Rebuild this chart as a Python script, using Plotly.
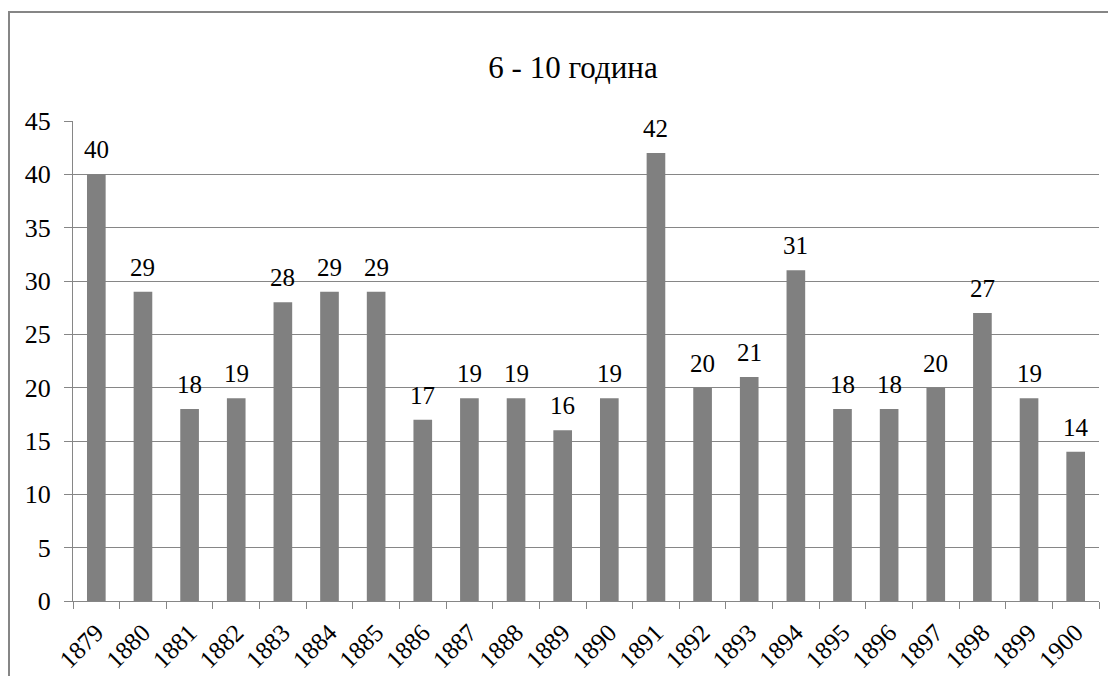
import plotly.graph_objects as go

years = ["1879", "1880", "1881", "1882", "1883", "1884", "1885", "1886", "1887", "1888", "1889",
         "1890", "1891", "1892", "1893", "1894", "1895", "1896", "1897", "1898", "1899", "1900"]
values = [40, 29, 18, 19, 28, 29, 29, 17, 19, 19, 16, 19, 42, 20, 21, 31, 18, 18, 20, 27, 19, 14]
title_text = "6 - 10 година"

# the page body has an 8px margin; the figure is sized so the plot area lands where the reference has it
OFF = 8
W, H = 1100, 668
L, R, T, B = 73 - OFF, 9, 121 - OFF, 75
FONT = "Liberation Serif"
GRAY = "#868686"

fig = go.Figure(go.Bar(
    x=years, y=values,
    marker=dict(color="#808080", line=dict(width=0)),
    width=0.40,
    hoverinfo="x+y",
))

for i, v in enumerate(values):
    fig.add_annotation(x=i, y=v, text=str(v), showarrow=False, xanchor="center",
                       yanchor="bottom", yshift=9,
                       font=dict(family=FONT, size=25, color="black"))

pw = W - L - R
ph = H - T - B
fig.add_shape(type="rect", xref="paper", yref="paper",
              x0=(1 - L) / pw, x1=(W + 20 - L) / pw,
              y0=-(B + 20) / ph, y1=(ph + T - 4) / ph,
              line=dict(color=GRAY, width=2), layer="below")

fig.update_layout(
    width=W, height=H,
    margin=dict(l=L, r=R, t=T, b=B, pad=0),
    paper_bgcolor="white", plot_bgcolor="white",
    showlegend=False,
    title=dict(text=title_text, xref="container", x=(573 - OFF) / W, xanchor="center",
               yref="container", y=1 - (67 - OFF) / H, yanchor="middle",
               font=dict(family=FONT, size=31, color="black")),
    xaxis=dict(type="category", tickson="boundaries", ticks="outside", ticklen=7,
               range=[-0.5, len(years) - 0.5],
               tickcolor=GRAY, showline=True, linecolor=GRAY, linewidth=1,
               tickangle=-45, tickfont=dict(family=FONT, size=25, color="black"),
               ticklabelstandoff=6,
               showgrid=False, automargin=False),
    yaxis=dict(range=[0, 45], dtick=5, ticks="outside", ticklen=8, tickcolor=GRAY,
               showline=True, linecolor=GRAY, linewidth=1,
               showgrid=True, gridcolor=GRAY, gridwidth=1,
               tickfont=dict(family=FONT, size=26, color="black"),
               ticklabelstandoff=8,
               zeroline=False, automargin=False),
)

fig.write_html("out.html")
